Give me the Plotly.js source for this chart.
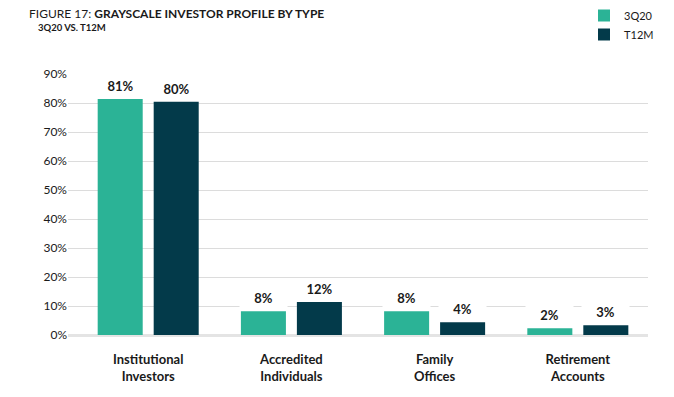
<!DOCTYPE html>
<html>
<head>
<meta charset="utf-8">
<script src="https://cdn.plot.ly/plotly-3.0.1.min.js"></script>
<style>html,body{margin:0;padding:0;background:#fff;}#chart{width:674px;height:397px;}</style>
</head>
<body>
<div id="chart"></div>
<script>
const categories = ["Institutional<br>Investors", "Accredited<br>Individuals", "Family<br>Offices", "Retirement<br>Accounts"];
const series3Q20 = [81.4, 8.2, 8.2, 2.3];
const seriesT12M = [80.5, 11.4, 4.4, 3.4];
const labels3Q20 = ["81%", "8%", "8%", "2%"];
const labelsT12M = ["80%", "12%", "4%", "3%"];
const yTicks = [0, 10, 20, 30, 40, 50, 60, 70, 80, 90];
const yTickText = yTicks.map(v => v + "%");

const teal = "#2bb396";
const navy = "#033a4a";
const FONT = "Lato, 'Open Sans', sans-serif";

const traces = [
  {type: "bar", name: "3Q20", x: categories, y: series3Q20, marker: {color: teal}, hoverinfo: "skip"},
  {type: "bar", name: "T12M", x: categories, y: seriesT12M, marker: {color: navy}, hoverinfo: "skip"}
];

const annotations = [];
function addLabels(vals, labels, shift) {
  vals.forEach((v, i) => {
    annotations.push({
      x: categories[i], y: v, xref: "x", yref: "y",
      xshift: shift, yanchor: "bottom", yshift: 0,
      text: "<b>" + labels[i] + "</b>", showarrow: false,
      bgcolor: "#ffffff", width: 45, height: 19, valign: "top",
      font: {family: FONT, size: 13, color: "#1a1a1a"}
    });
  });
}
addLabels(series3Q20, labels3Q20, -28);
addLabels(seriesT12M, labelsT12M, 28);

annotations.push({
  xref: "paper", yref: "paper", x: -0.055, y: 1.205, xanchor: "left", yanchor: "top",
  text: "<b>3Q20 VS. T12M</b>", showarrow: false,
  font: {family: FONT, size: 9.5, color: "#1a1a1a"}
});

const layout = {
  width: 674, height: 397,
  margin: {l: 68, r: 26, t: 74, b: 62, autoexpand: false},
  paper_bgcolor: "#fff", plot_bgcolor: "#fff",
  font: {family: FONT, color: "#1a1a1a"},
  title: {
    text: "FIGURE 17: <b>GRAYSCALE INVESTOR PROFILE BY TYPE</b>",
    x: 29/674, xref: "container", xanchor: "left",
    y: 1 - 10/397, yref: "container", yanchor: "top",
    font: {family: FONT, size: 12, color: "#1a1a1a"}
  },
  barmode: "group", bargap: 0.218, bargroupgap: 0.196,
  xaxis: {
    range: [-0.56, 3.49], showgrid: false, zeroline: false, showline: false,
    ticks: "", ticklabelstandoff: 15,
    tickfont: {family: FONT, size: 13, color: "#1a1a1a", weight: "bold"},
    fixedrange: true
  },
  yaxis: {
    range: [0, 90], tickmode: "array", tickvals: yTicks, ticktext: yTickText,
    showgrid: true, gridcolor: "#dcdcdc", gridwidth: 1,
    zeroline: true, zerolinecolor: "#e4e4e4", zerolinewidth: 3,
    showline: false, ticks: "", ticklen: 0,
    tickfont: {family: FONT, size: 12, color: "#1a1a1a"},
    fixedrange: true
  },
  showlegend: true,
  legend: {
    xref: "container", yref: "container",
    x: 584/674, y: 1 - 1/397, xanchor: "left", yanchor: "top",
    font: {family: FONT, size: 11, color: "#1a1a1a"},
    tracegroupgap: 0, itemwidth: 30, bgcolor: "rgba(0,0,0,0)"
  },
  annotations: annotations
};

Plotly.newPlot("chart", traces, layout, {displayModeBar: false, staticPlot: true});
</script>
</body>
</html>
